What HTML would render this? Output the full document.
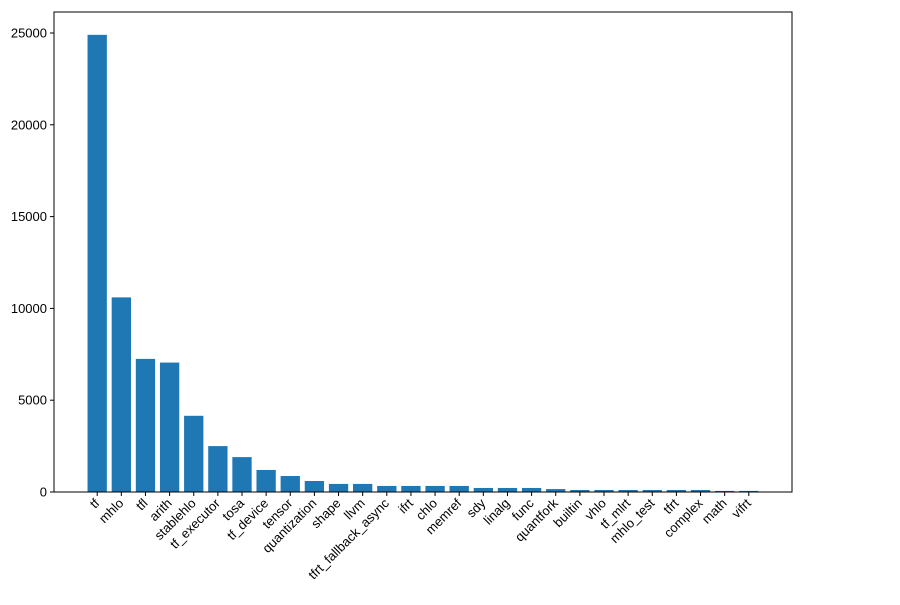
<!DOCTYPE html>
<html><head><meta charset="utf-8"><style>
body{margin:0;background:#fff;}
svg text{font-family:"Liberation Sans","DejaVu Sans",sans-serif;font-size:13px;fill:#000;}
</style></head><body>
<svg id="chart" width="900" height="600" xmlns="http://www.w3.org/2000/svg">
<rect width="900" height="600" fill="#fff"/>
<g id="bars"></g>
<g id="xticks"></g>
<g id="yticks"></g>
<rect x="54" y="12" width="738" height="480" fill="none" stroke="#000" stroke-width="1"/>
</svg>
<script>
const categories=["tf","mhlo","tfl","arith","stablehlo","tf_executor","tosa","tf_device","tensor","quantization","shape","llvm","tfrt_fallback_async","ifrt","chlo","memref","sdy","linalg","func","quantfork","builtin","vhlo","tf_mlrt","mhlo_test","tfrt","complex","math","vifrt"];
const counts=[24900,10600,7250,7050,4150,2500,1900,1200,870,600,440,440,330,330,330,330,220,220,220,160,110,110,110,110,110,110,60,60];
const yTicks=[0,5000,10000,15000,20000,25000];
const NS="http://www.w3.org/2000/svg";
const L=54,R=792,T=12,B=492;
const n=categories.length;
const span=(n-1)+0.8, m=span*0.05;
const x0=-0.4-m, x1=n-1+0.4+m;
const ymax=Math.max(...counts)*1.05/1; 
function xs(i){return L+(i-x0)/(x1-x0)*(R-L);}
function ys(v){return B-v*(459/25000);}
const bw=0.8*(R-L)/(x1-x0);
const gb=document.getElementById('bars'),gx=document.getElementById('xticks'),gy=document.getElementById('yticks');
function mk(t,a){const e=document.createElementNS(NS,t);for(const k in a)e.setAttribute(k,a[k]);return e;}
counts.forEach((v,i)=>{
 const r=mk('rect',{x:xs(i)-bw/2,y:ys(v),width:bw,height:B-ys(v),fill:'#1f77b4'});
 
 
 gb.appendChild(r);
 const tk=mk('line',{x1:xs(i),x2:xs(i),y1:B,y2:B+4,stroke:'#000'});
 
 
 gx.appendChild(tk);
 const tx=mk('text',{x:xs(i)+3,y:B+12,'text-anchor':'end',transform:`rotate(-45 ${xs(i)+3} ${B+12})`});
 tx.textContent=categories[i];
 
 
 gx.appendChild(tx);
});
yTicks.forEach(v=>{
 const tk=mk('line',{x1:L-4,x2:L,y1:ys(v),y2:ys(v),stroke:'#000'});
 
 
 gy.appendChild(tk);
 const tx=mk('text',{x:L-7,y:ys(v)+4.5,'text-anchor':'end'});
 tx.textContent=v;
 
 
 gy.appendChild(tx);
});
</script>
</body></html>
